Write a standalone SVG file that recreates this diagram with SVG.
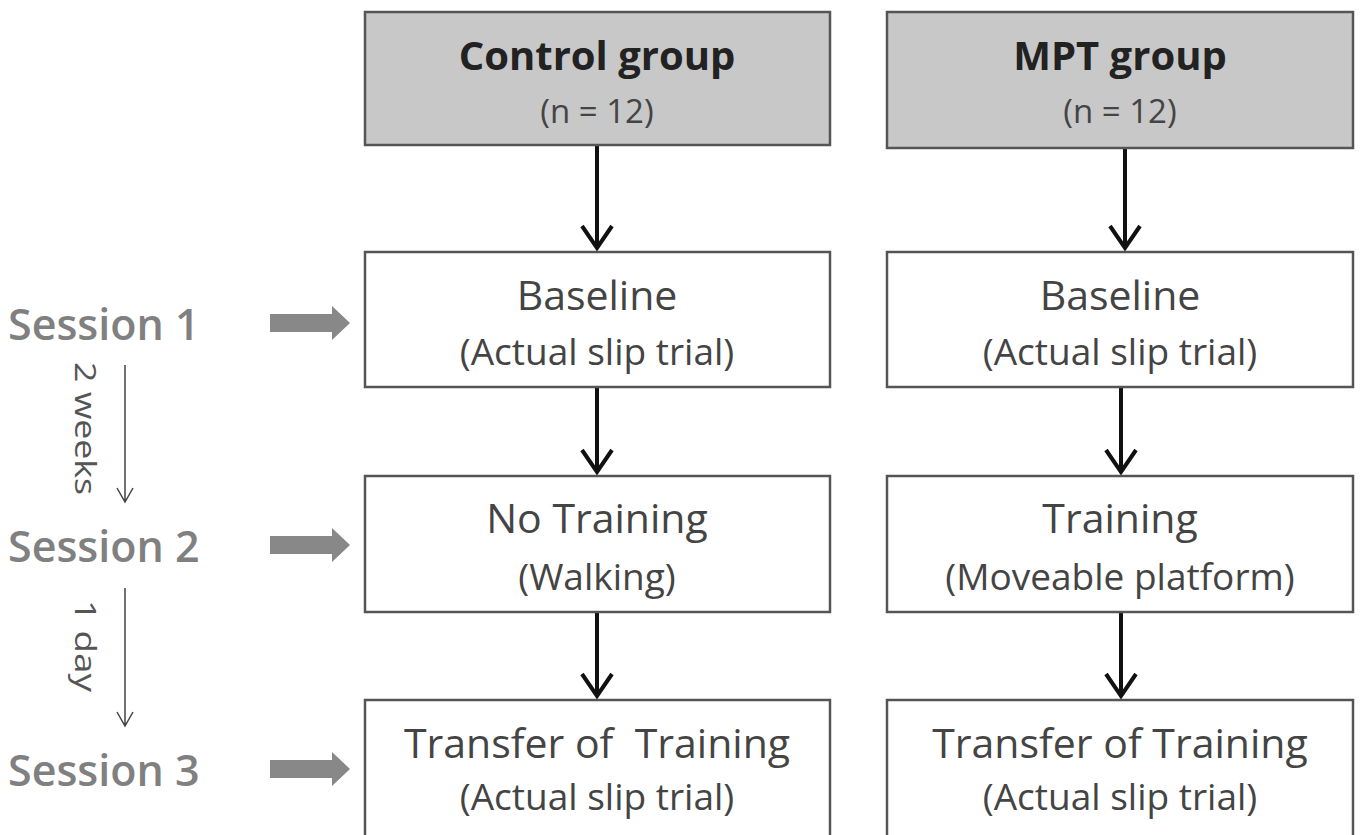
<svg xmlns="http://www.w3.org/2000/svg" width="1360" height="835" viewBox="0 0 1360 835">
<style>
.box{fill:#fff;stroke:#555;stroke-width:2.5}
.hdr{fill:#c8c8c8;stroke:#555;stroke-width:2.5}
.t{font-family:"Open Sans","Liberation Sans",sans-serif;fill:#444;text-anchor:middle}
.big{font-size:41px}
.sm{font-size:37px}
.bold{font-weight:bold;fill:#222;font-size:40px}
.n{font-size:33px}
.pre{white-space:pre}
.sess{font-family:"Open Sans","Liberation Sans",sans-serif;font-size:43px;font-weight:600;fill:#808080}
.conn{stroke:#111;stroke-width:4;fill:none}
.thin{stroke:#444;stroke-width:1.5;fill:none}
.rot{font-family:"Open Sans","Liberation Sans",sans-serif;font-size:30px;fill:#555}
</style>
<g id="connectors">
<g class="conn">
<path d="M597 146V247M582 226L597 248L612 226"/>
<path d="M1125 148V247M1110 226L1125 248L1140 226"/>
<path d="M597 388V472M582 450L597 472L612 450"/>
<path d="M1121 388V472M1106 450L1121 472L1136 450"/>
<path d="M597 613V696M582 674L597 696L612 674"/>
<path d="M1121 613V696M1106 674L1121 696L1136 674"/>
</g>
<g fill="#888">
<path d="M270 314H332V306L350 323L332 340V332H270Z"/>
<path d="M270 536H332V528L350 545L332 562V554H270Z"/>
<path d="M270 760H332V752L350 769L332 786V778H270Z"/>
</g>
<g class="thin">
<path d="M125 365V501M117 488L125 502L133 488"/>
<path d="M125 588V725M117 712L125 726L133 712"/>
</g>
</g>
<g id="timeline-labels">
<text class="sess" x="8" y="340">Session 1</text>
<text class="sess" x="8" y="562">Session 2</text>
<text class="sess" x="8" y="786">Session 3</text>
<text class="rot" transform="translate(75 362) rotate(90)" textLength="133" lengthAdjust="spacingAndGlyphs">2 weeks</text>
<text class="rot" transform="translate(75 600) rotate(90)" textLength="92" lengthAdjust="spacingAndGlyphs">1 day</text>
</g>
<g id="control-header">
<rect class="hdr" x="365" y="12" width="465" height="133"/>
<text class="t bold" x="597" y="70">Control group</text>
<text class="t n" x="597" y="123">(n = 12)</text>
</g>
<g id="mpt-header">
<rect class="hdr" x="887" y="12" width="466" height="136"/>
<text class="t bold" x="1120" y="70">MPT group</text>
<text class="t n" x="1120" y="123">(n = 12)</text>
</g>
<g id="control-baseline">
<rect class="box" x="365" y="252" width="465" height="135"/>
<text class="t big" x="597" y="310">Baseline</text>
<text class="t sm" x="597" y="365">(Actual slip trial)</text>
</g>
<g id="mpt-baseline">
<rect class="box" x="887" y="252" width="466" height="135"/>
<text class="t big" x="1120" y="310">Baseline</text>
<text class="t sm" x="1120" y="365">(Actual slip trial)</text>
</g>
<g id="control-training">
<rect class="box" x="365" y="476" width="465" height="136"/>
<text class="t big" x="597" y="533">No Training</text>
<text class="t sm" x="597" y="590">(Walking)</text>
</g>
<g id="mpt-training">
<rect class="box" x="887" y="476" width="466" height="136"/>
<text class="t big" x="1120" y="533">Training</text>
<text class="t sm" x="1120" y="590">(Moveable platform)</text>
</g>
<g id="control-transfer">
<rect class="box" x="365" y="700" width="465" height="140"/>
<text class="t big pre" x="597" y="758">Transfer of  Training</text>
<text class="t sm" x="597" y="810">(Actual slip trial)</text>
</g>
<g id="mpt-transfer">
<rect class="box" x="887" y="700" width="466" height="140"/>
<text class="t big" x="1120" y="758">Transfer of Training</text>
<text class="t sm" x="1120" y="810">(Actual slip trial)</text>
</g>
</svg>
